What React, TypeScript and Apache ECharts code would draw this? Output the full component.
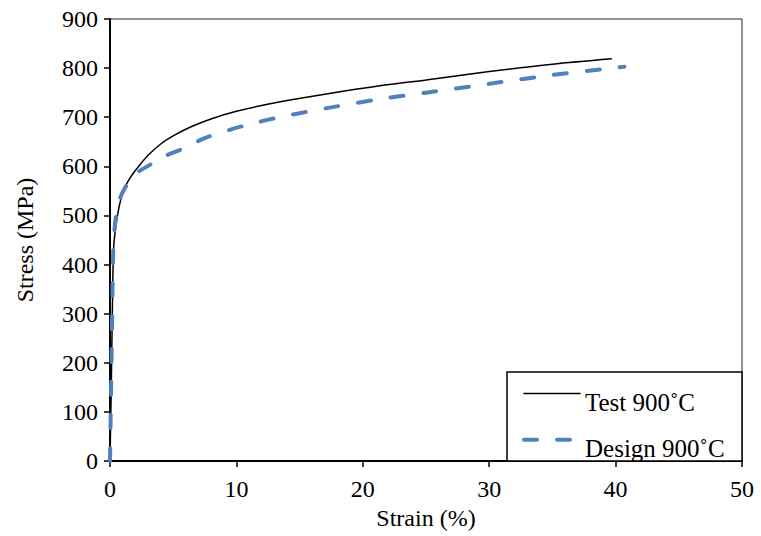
import React, { useEffect, useRef } from "react";
import * as echarts from "echarts";

const testStrain = [0, 0.1, 0.2, 0.28, 0.4, 0.66, 1.05, 1.58, 2.24, 3.03, 4.09, 5.14, 6.46, 8.04, 10, 12, 14.24, 17, 21.36, 25, 30, 35, 39.7];
const testStress = [0, 150, 330, 430, 465, 510, 550, 576, 599, 623, 647, 664, 681, 697, 712, 724, 735, 747, 764, 776, 793, 808, 819];

const designStrain = [0, 0.1, 0.25, 0.35, 0.53, 0.8, 1.05, 1.71, 2.3, 3.16, 4.3, 5.67, 7.65, 10.8, 13.6, 17.5, 21.36, 25, 30, 35, 40.7];
const designStress = [0, 170, 420, 470, 508, 535, 550, 576, 590, 603, 620, 635, 659, 684, 701, 720, 737, 750, 768, 786, 803];

const xTicks = { min: 0, max: 50, interval: 10 };
const yTicks = { min: 0, max: 900, interval: 100 };

const seriesNames = ["Test 900˚C", "Design 900˚C"];

const FONT = "'Liberation Serif', 'Times New Roman', serif";

export default function App() {
  const ref = useRef<HTMLDivElement>(null);
  useEffect(() => {
    if (!ref.current) return;
    const chart = echarts.init(ref.current, undefined, { renderer: "svg" });
    const testData = testStrain.map((x, i) => [x, testStress[i]]);
    const designData = designStrain.map((x, i) => [x, designStress[i]]);
    chart.setOption({
      animation: false,
      backgroundColor: "#fff",
      textStyle: { fontFamily: FONT },
      grid: {
        left: 110,
        right: 19,
        top: 19,
        bottom: 75,
        show: true,
        borderColor: "#222",
        borderWidth: 1,
        backgroundColor: "transparent",
      },
      graphic: [
        {
          type: "rect",
          z: 3,
          shape: { x: 507, y: 372, width: 235, height: 89 },
          style: { fill: "#fff", stroke: "#000", lineWidth: 1.5 },
        },
      ],
      legend: {
        orient: "vertical",
        left: 522,
        top: 384,
        padding: 0,
        itemGap: 15,
        itemWidth: 56,
        itemHeight: 24,
        z: 5,
        itemStyle: { opacity: 0 },
        lineStyle: { width: "inherit", type: "inherit", cap: "round" },
        formatter: "{a|{name}}",
        textStyle: {
          fontFamily: FONT,
          fontSize: 25,
          color: "#000",
          rich: { a: { fontFamily: FONT, fontSize: 25, color: "#000", padding: [18, 0, 0, 0] } },
        },
        data: seriesNames,
      },
      xAxis: {
        type: "value",
        min: xTicks.min,
        max: xTicks.max,
        interval: xTicks.interval,
        name: "Strain (%)",
        nameLocation: "middle",
        nameGap: 45,
        nameTextStyle: { fontFamily: FONT, fontSize: 24, color: "#000" },
        axisLine: { show: true, onZero: false, lineStyle: { color: "#000", width: 2 } },
        axisTick: { show: true, length: 6, lineStyle: { color: "#000", width: 1.5 } },
        axisLabel: { fontFamily: FONT, fontSize: 24, color: "#000", margin: 16 },
        splitLine: { show: false },
      },
      yAxis: {
        type: "value",
        min: yTicks.min,
        max: yTicks.max,
        interval: yTicks.interval,
        name: "Stress (MPa)",
        nameLocation: "middle",
        nameGap: 73,
        nameTextStyle: { fontFamily: FONT, fontSize: 24, color: "#000" },
        axisLine: { show: true, onZero: false, lineStyle: { color: "#000", width: 2 } },
        axisTick: { show: true, length: 6, lineStyle: { color: "#000", width: 1.5 } },
        axisLabel: { fontFamily: FONT, fontSize: 24, color: "#000", margin: 12 },
        splitLine: { show: false },
      },
      series: [
        {
          name: seriesNames[0],
          type: "line",
          data: testData,
          showSymbol: false,
          symbol: "none",
          smooth: 0.3,
          color: "#000",
          lineStyle: { color: "#000", width: 1.5 },
        },
        {
          name: seriesNames[1],
          type: "line",
          data: designData,
          showSymbol: false,
          symbol: "none",
          smooth: 0.3,
          color: "#4f81bd",
          lineStyle: { color: "#4f81bd", width: 4, type: [13, 20], cap: "round" },
        },
      ],
    });
    return () => chart.dispose();
  }, []);
  return (
    <div
      ref={ref}
      style={{ position: "absolute", left: 0, top: 0, width: 761, height: 536, background: "#fff" }}
    />
  );
}
